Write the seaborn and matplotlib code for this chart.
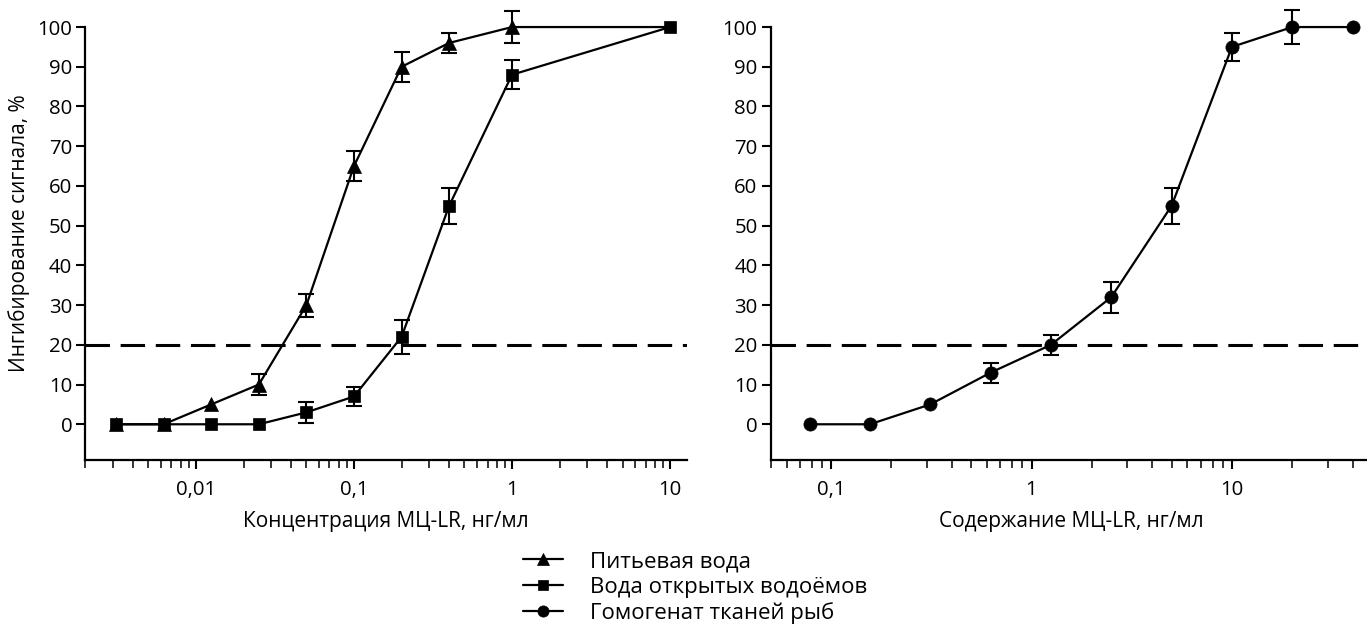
import matplotlib
matplotlib.use("Agg")
import matplotlib.pyplot as plt
import seaborn as sns
from matplotlib.ticker import FixedLocator, FuncFormatter, LogLocator, NullFormatter

# левый график: концентрация МЦ-LR, нг/мл
conc = [0.003125, 0.00625, 0.0125, 0.025, 0.05, 0.1, 0.2, 0.4, 1, 10]
drink = [0, 0, 5, 10, 30, 65, 90, 96, 100, 100]
drink_err = [0, 0, 0, 2.6, 2.9, 3.7, 3.8, 2.6, 4.0, 0]
open_w = [0, 0, 0, 0, 3, 7, 22, 55, 88, 100]
open_err = [0, 0, 0, 0, 2.6, 2.5, 4.2, 4.5, 3.6, 0]

# правый график: содержание МЦ-LR, нг/мл
cont = [0.078125, 0.15625, 0.3125, 0.625, 1.25, 2.5, 5, 10, 20, 40]
fish = [0, 0, 5, 13, 20, 32, 55, 95, 100, 100]
fish_err = [0, 0, 0, 2.5, 2.5, 3.9, 4.5, 3.5, 4.2, 0]

labels = ["Питьевая вода", "Вода открытых водоёмов", "Гомогенат тканей рыб"]
threshold = 20

sns.set_style("ticks")
plt.rcParams['font.family'] = ['Open Sans', 'DejaVu Sans']
plt.rcParams['text.color'] = 'black'
plt.rcParams['axes.labelcolor'] = 'black'
plt.rcParams['xtick.color'] = 'black'
plt.rcParams['ytick.color'] = 'black'
plt.rcParams['axes.edgecolor'] = 'black'

fig = plt.figure(figsize=(13.67, 6.30), dpi=100)
ax1 = fig.add_axes([0.0625, 0.2698, 0.4401, 0.7188])
ax2 = fig.add_axes([0.5638, 0.2698, 0.4399, 0.7188])


def comma(v, pos):
    return ("%g" % v).replace(".", ",")


def draw_series(ax, x, y, err, marker, ms, label, every=None):
    xs = [a for a, e in zip(x, err) if e > 0]
    ys = [b for b, e in zip(y, err) if e > 0]
    es = [e for e in err if e > 0]
    ax.errorbar(xs, ys, yerr=es, fmt="none", ecolor="black", elinewidth=1.5,
                capsize=6, capthick=1.5, zorder=2, clip_on=False)
    kw = {}
    if every is not None:
        kw["markevery"] = every
    sns.lineplot(x=x, y=y, ax=ax, color="black", linewidth=1.6, marker=marker,
                 markersize=ms, markeredgecolor="black", markeredgewidth=0.5,
                 label=label, zorder=3, clip_on=False, legend=False, **kw)


draw_series(ax1, conc, drink, drink_err, "^", 10, labels[0], every=list(range(9)))
draw_series(ax1, conc, open_w, open_err, "s", 8.5, labels[1])
draw_series(ax2, cont, fish, fish_err, "o", 9.5, labels[2])

for ax, xlim, majors in [(ax1, (0.002, 12.8), [0.01, 0.1, 1, 10]),
                         (ax2, (0.05, 50), [0.1, 1, 10])]:
    ax.set_xscale("log")
    ax.set_xlim(*xlim)
    ax.set_ylim(-9, 105)
    ax.axhline(threshold, color="black", linewidth=2.2, dashes=(8, 3.5), zorder=1)
    ax.xaxis.set_major_locator(FixedLocator(majors))
    ax.xaxis.set_major_formatter(FuncFormatter(comma))
    ax.xaxis.set_minor_locator(LogLocator(base=10, subs=range(2, 10), numticks=20))
    ax.xaxis.set_minor_formatter(NullFormatter())
    ax.set_yticks(range(0, 101, 10))
    ax.spines["top"].set_visible(False)
    ax.spines["right"].set_visible(False)
    ax.spines["left"].set_bounds(-9, 100)
    for sp in ("left", "bottom"):
        ax.spines[sp].set_linewidth(1.6)
    ax.tick_params(axis="both", which="major", direction="out", length=6.5,
                   width=1.5, labelsize=14.7, pad=3)
    ax.tick_params(axis="x", which="major", pad=8)
    ax.tick_params(axis="x", which="minor", direction="out", length=5.5, width=1.1)

ax1.set_xlabel("Концентрация МЦ-LR, нг/мл", fontsize=15, labelpad=8)
ax2.set_xlabel("Содержание МЦ-LR, нг/мл", fontsize=15, labelpad=8)
ax1.set_ylabel("Ингибирование сигнала, %", fontsize=15, labelpad=5)

h1, l1 = ax1.get_legend_handles_labels()
h2, l2 = ax2.get_legend_handles_labels()
fig.legend(h1 + h2, l1 + l2, loc="center", bbox_to_anchor=(695 / 1367, 1 - 587.5 / 630),
           frameon=False, fontsize=16, handlelength=1.8, handletextpad=1.2,
           labelspacing=0.2, borderpad=0, markerscale=0.85)

fig.savefig("out.png", dpi=100)
